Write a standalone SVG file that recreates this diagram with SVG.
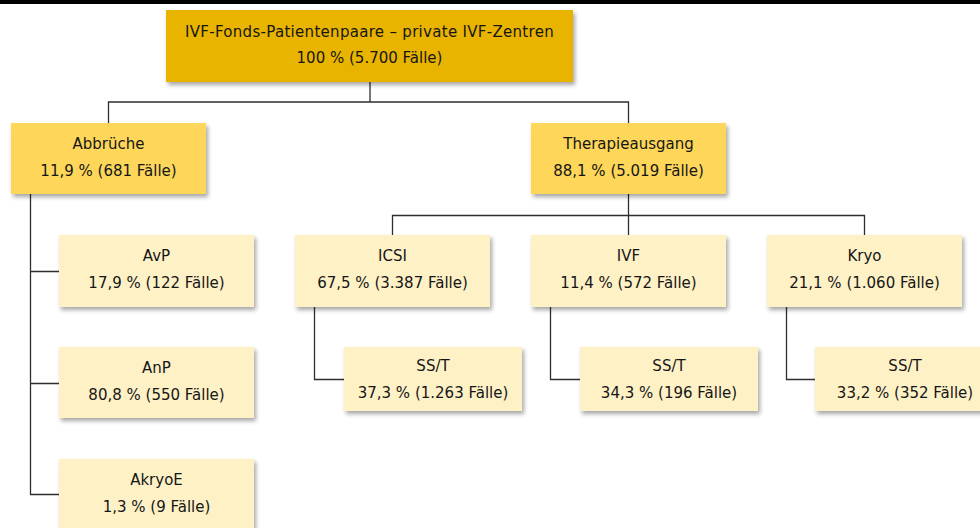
<svg xmlns="http://www.w3.org/2000/svg" width="980" height="528" viewBox="0 0 980 528">
  <style>
    .t { font-family: "DejaVu Sans", "Liberation Sans", sans-serif; font-size: 15px; fill: #161616; text-anchor: middle; }
    .root { fill: #E9B400; filter: url(#sh); }
    .mid { fill: #FDD65A; filter: url(#sh); }
    .leaf { fill: #FEF1C6; filter: url(#sh); }
    .c { fill: none; stroke: #2e2e2e; stroke-width: 1.3; }
  </style>
  <defs>
    <filter id="sh" x="-10%" y="-20%" width="125%" height="150%">
      <feDropShadow dx="2" dy="3" stdDeviation="2" flood-color="#000" flood-opacity="0.35"/>
    </filter>
  </defs>
  <rect x="0" y="0" width="980" height="528" fill="#ffffff"/>
  <rect x="0" y="0" width="980" height="4" fill="#000000"/>

  <g id="connectors">
    <path class="c" d="M370 82 V102" stroke-width="2"/>
    <path class="c" d="M108.5 123 V102 H628.5 V123"/>
    <path class="c" d="M30.5 194 V494.5 H59 M30.5 271.5 H59 M30.5 383.5 H59"/>
    <path class="c" d="M628.5 194 V235 M392.5 235 V215.5 H864.5 V235"/>
    <path class="c" d="M314.5 307 V379.5 H344"/>
    <path class="c" d="M550.5 307 V379.5 H580"/>
    <path class="c" d="M786.5 307 V379.5 H815"/>
  </g>

  <g id="n-root">
    <rect class="root" x="166" y="10" width="407" height="72"/>
    <text class="t" x="369.5" y="37" letter-spacing="0.3">IVF-Fonds-Patientenpaare – private IVF-Zentren</text>
    <text class="t" x="369.5" y="63">100 % (5.700 Fälle)</text>
  </g>
  <g id="n-abbrueche">
    <rect class="mid" x="11" y="123" width="195" height="71"/>
    <text class="t" x="108.5" y="149">Abbrüche</text>
    <text class="t" x="108.5" y="176">11,9 % (681 Fälle)</text>
  </g>
  <g id="n-therapie">
    <rect class="mid" x="531" y="123" width="195" height="71"/>
    <text class="t" x="628.5" y="149">Therapieausgang</text>
    <text class="t" x="628.5" y="176">88,1 % (5.019 Fälle)</text>
  </g>
  <g id="n-avp">
    <rect class="leaf" x="59" y="235" width="195" height="72"/>
    <text class="t" x="156.5" y="261">AvP</text>
    <text class="t" x="156.5" y="288">17,9 % (122 Fälle)</text>
  </g>
  <g id="n-anp">
    <rect class="leaf" x="59" y="347" width="195" height="71"/>
    <text class="t" x="156.5" y="373">AnP</text>
    <text class="t" x="156.5" y="400">80,8 % (550 Fälle)</text>
  </g>
  <g id="n-akryoe">
    <rect class="leaf" x="59" y="459" width="195" height="72"/>
    <text class="t" x="156.5" y="485">AkryoE</text>
    <text class="t" x="156.5" y="512">1,3 % (9 Fälle)</text>
  </g>
  <g id="n-icsi">
    <rect class="leaf" x="295" y="235" width="195" height="72"/>
    <text class="t" x="392.5" y="261">ICSI</text>
    <text class="t" x="392.5" y="288">67,5 % (3.387 Fälle)</text>
  </g>
  <g id="n-ivf">
    <rect class="leaf" x="531" y="235" width="195" height="72"/>
    <text class="t" x="628.5" y="261">IVF</text>
    <text class="t" x="628.5" y="288">11,4 % (572 Fälle)</text>
  </g>
  <g id="n-kryo">
    <rect class="leaf" x="767" y="235" width="195" height="72"/>
    <text class="t" x="864.5" y="261">Kryo</text>
    <text class="t" x="864.5" y="288">21,1 % (1.060 Fälle)</text>
  </g>
  <g id="n-icsi-sst">
    <rect class="leaf" x="344" y="347" width="178" height="64"/>
    <text class="t" x="433" y="371">SS/T</text>
    <text class="t" x="433" y="398">37,3 % (1.263 Fälle)</text>
  </g>
  <g id="n-ivf-sst">
    <rect class="leaf" x="580" y="347" width="178" height="64"/>
    <text class="t" x="669" y="371">SS/T</text>
    <text class="t" x="669" y="398">34,3 % (196 Fälle)</text>
  </g>
  <g id="n-kryo-sst">
    <rect class="leaf" x="815" y="347" width="180" height="64"/>
    <text class="t" x="905" y="371">SS/T</text>
    <text class="t" x="905" y="398">33,2 % (352 Fälle)</text>
  </g>
</svg>
